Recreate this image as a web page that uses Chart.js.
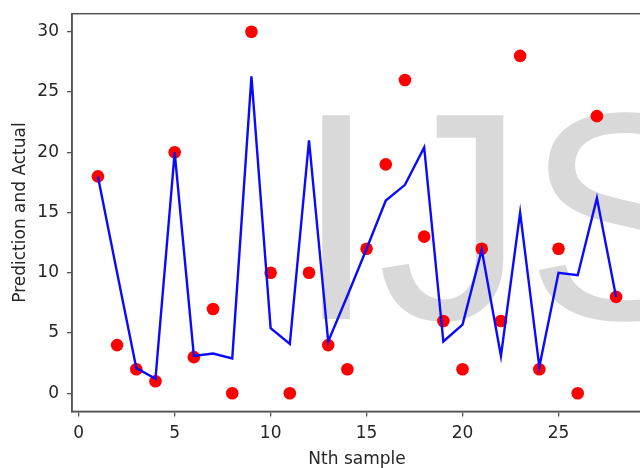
<!DOCTYPE html>
<html><head><meta charset="utf-8">
<script src="https://cdn.jsdelivr.net/npm/chart.js@4"></script>
<style>
html,body{margin:0;padding:0;background:#fff;overflow:hidden;width:640px;height:468px}
#wrap{position:absolute;left:0;top:0;width:642px;height:468px}
</style>
</head><body><div id="wrap"><canvas id="c" width="642" height="468"></canvas></div>
<script>
const samples = [1,2,3,4,5,6,7,8,9,10,11,12,13,14,15,16,17,18,19,20,21,22,23,24,25,26,27,28];
const actual = [18,4,2,1,20,3,7,0,30,10,0,10,4,2,12,19,26,13,6,2,12,6,28,2,12,0,23,8];
const predicted = [18,10,2.1,1.2,20,3.1,3.3,2.9,26.3,5.4,4.1,21,4.3,8.1,12,16,17.3,20.4,4.3,5.7,11.9,3.1,15,2.2,10,9.8,16.2,8];
const xTicks = [0,5,10,15,20,25];
const yTicks = [0,5,10,15,20,25,30];
const xTitle = 'Nth sample';
const yTitle = 'Prediction and Actual';
const watermark = 'IJS';

const FONT = {family:'"DejaVu Sans"', size:17};
const TXT = '#262626';
const AX = '#555555';

const frame = {
  id:'frame',
  afterDraw(chart){
    const a = chart.chartArea, ctx = chart.ctx;
    ctx.save();
    ctx.strokeStyle = AX; ctx.lineWidth = 1.5;
    ctx.strokeRect(a.left, a.top, a.right - a.left, a.bottom - a.top);
    ctx.restore();
  }
};
const mark = {
  id:'mark',
  beforeDatasetsDraw(chart){
    const ctx = chart.ctx, a = chart.chartArea;
    ctx.save();
    ctx.font = '296px "Liberation Sans"';
    ctx.fillStyle = '#d9d9d9';
    ctx.textBaseline = 'alphabetic';
    ctx.fillText(watermark, a.left + 223, a.bottom - 92.5);
    ctx.restore();
  }
};

new Chart(document.getElementById('c'), {
  type:'scatter',
  data:{
    datasets:[
      {type:'line', data:samples.map((x,i)=>({x, y:predicted[i]})), borderColor:'#0a0aff', borderWidth:2.4, pointRadius:0, tension:0, fill:false, order:0},
      {type:'scatter', data:samples.map((x,i)=>({x, y:actual[i]})), backgroundColor:'#ff0000', borderWidth:0, pointRadius:6.3, order:1}
    ]
  },
  options:{
    responsive:false, animation:false, devicePixelRatio:1,
    layout:{autoPadding:false, padding:{top:13.7,right:0,bottom:0,left:0}},
    plugins:{legend:{display:false}, tooltip:{enabled:false}},
    scales:{
      x:{
        type:'linear', min:-0.35, max:29.35,
        afterBuildTicks:s=>{ s.ticks = xTicks.map(v=>({value:v})); },
        afterFit:s=>{ s.height = 56.6; s.paddingLeft = 0; s.paddingRight = 0; },
        grid:{display:true, drawOnChartArea:false, drawTicks:true, tickLength:5, color:AX, lineWidth:1.3},
        border:{display:true, color:AX, width:1.5},
        ticks:{font:FONT, color:TXT, padding:7, maxRotation:0, autoSkip:false},
        title:{display:true, text:xTitle, font:FONT, color:TXT, padding:{top:0,bottom:-2}}
      },
      y:{
        type:'linear', min:-1.5, max:31.5,
        afterBuildTicks:s=>{ s.ticks = yTicks.map(v=>({value:v})); },
        afterFit:s=>{ s.width = 72; s.paddingTop = 0; s.paddingBottom = 0; },
        grid:{display:true, drawOnChartArea:false, drawTicks:true, tickLength:5, color:AX, lineWidth:1.3},
        border:{display:true, color:AX, width:1.5},
        ticks:{font:FONT, color:TXT, padding:8, autoSkip:false},
        title:{display:true, text:yTitle, font:FONT, color:TXT, padding:{top:10,bottom:0}}
      }
    }
  },
  plugins:[mark, frame]
});
</script>
</body></html>
